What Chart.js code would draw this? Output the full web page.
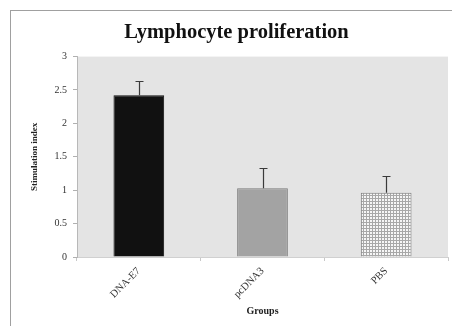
<!DOCTYPE html>
<html>
<head>
<meta charset="utf-8">
<script src="https://cdn.jsdelivr.net/npm/chart.js@4/dist/chart.umd.min.js"></script>
<style>
  html, body { margin: 0; padding: 0; background: #ffffff; }
  #wrap { width: 452px; height: 326px; }
</style>
</head>
<body>
<div id="wrap"><canvas id="c" width="452" height="326"></canvas></div>
<script>
// Groups and mean stimulation index with upper error (SD)
const groups = ['DNA-E7', 'pcDNA3', 'PBS'];
const stimulationIndex = [2.42, 1.03, 0.96];
const errorUpper = [0.22, 0.30, 0.25];
const yTicks = [0, 0.5, 1, 1.5, 2, 2.5, 3];

// Checkered fill used for the PBS bar
function gridPattern() {
  const p = document.createElement('canvas');
  p.width = 3; p.height = 3;
  const g = p.getContext('2d');
  g.fillStyle = '#f6f6f6';
  g.fillRect(0, 0, 3, 3);
  g.fillStyle = '#a8a8a8';
  g.fillRect(0, 0, 3, 1);
  g.fillRect(0, 0, 1, 3);
  return g.createPattern(p, 'repeat');
}

const ctx = document.getElementById('c').getContext('2d');

const framePlugin = {
  id: 'frame',
  beforeDraw(chart) {
    const c = chart.ctx;
    const a = chart.chartArea;
    c.save();
    c.fillStyle = '#ffffff';
    c.fillRect(0, 0, chart.width, chart.height);
    c.strokeStyle = '#a0a0a0';
    c.lineWidth = 1;
    c.strokeRect(10.5, 10.5, chart.width, chart.height);
    c.fillStyle = '#e4e4e4';
    c.fillRect(a.left, a.top, a.right - a.left, a.bottom - a.top);
    c.restore();
  }
};

const errorBarPlugin = {
  id: 'errorBars',
  afterDatasetsDraw(chart) {
    const c = chart.ctx;
    const meta = chart.getDatasetMeta(0);
    const y = chart.scales.y;
    c.save();
    c.strokeStyle = '#3a3a3a';
    c.lineWidth = 1.2;
    meta.data.forEach((bar, i) => {
      const x = Math.round(bar.x) + 0.5;
      const y0 = y.getPixelForValue(stimulationIndex[i]);
      const y1 = Math.round(y.getPixelForValue(stimulationIndex[i] + errorUpper[i])) + 0.5;
      c.beginPath();
      c.moveTo(x, y0);
      c.lineTo(x, y1);
      c.moveTo(x - 4, y1);
      c.lineTo(x + 4, y1);
      c.stroke();
    });
    c.restore();
  }
};

new Chart(ctx, {
  type: 'bar',
  data: {
    labels: groups,
    datasets: [{
      data: stimulationIndex,
      backgroundColor: ['#111111', '#a3a3a3', gridPattern()],
      borderColor: ['#111111', '#7a7a7a', '#7a7a7a'],
      borderWidth: 1,
      barPercentage: 0.41,
      categoryPercentage: 1.0
    }]
  },
  options: {
    responsive: false,
    animation: false,
    devicePixelRatio: 1,
    layout: { padding: { left: 25, right: 4, top: 8, bottom: 0 } },
    plugins: {
      legend: { display: false },
      tooltip: { enabled: false },
      title: {
        display: true,
        text: 'Lymphocyte proliferation',
        color: '#111111',
        font: { family: 'Liberation Serif', size: 20.5, weight: 'bold' },
        padding: { top: 12, bottom: 12 }
      }
    },
    scales: {
      x: {
        grid: {
          drawOnChartArea: false,
          drawTicks: true,
          tickLength: 4,
          color: '#c8c8c8'
        },
        border: { color: '#d0d0d0' },
        ticks: {
          minRotation: 45,
          maxRotation: 45,
          padding: 4,
          color: '#333333',
          font: { family: 'Liberation Serif', size: 10.5 }
        },
        title: {
          display: true,
          text: 'Groups',
          color: '#222222',
          font: { family: 'Liberation Serif', size: 10, weight: 'bold' },
          padding: { top: 0, bottom: 9 }
        },
        afterFit(scale) { scale.height = 69; }
      },
      y: {
        min: 0,
        max: 3,
        afterBuildTicks(scale) { scale.ticks = yTicks.map(v => ({ value: v })); },
        grid: {
          drawOnChartArea: false,
          drawTicks: true,
          tickLength: 4,
          color: '#b0b0b0'
        },
        border: { color: '#b8b8b8' },
        ticks: {
          padding: 6,
          color: '#333333',
          font: { family: 'Liberation Serif', size: 10 },
          callback: (v) => String(v)
        },
        title: {
          display: true,
          text: 'Stimulation index',
          color: '#222222',
          font: { family: 'Liberation Serif', size: 9, weight: 'bold' },
          padding: { top: 4, bottom: 0 }
        },
        afterFit(scale) { scale.width = 52; }
      }
    }
  },
  plugins: [framePlugin, errorBarPlugin]
});
</script>
</body>
</html>
